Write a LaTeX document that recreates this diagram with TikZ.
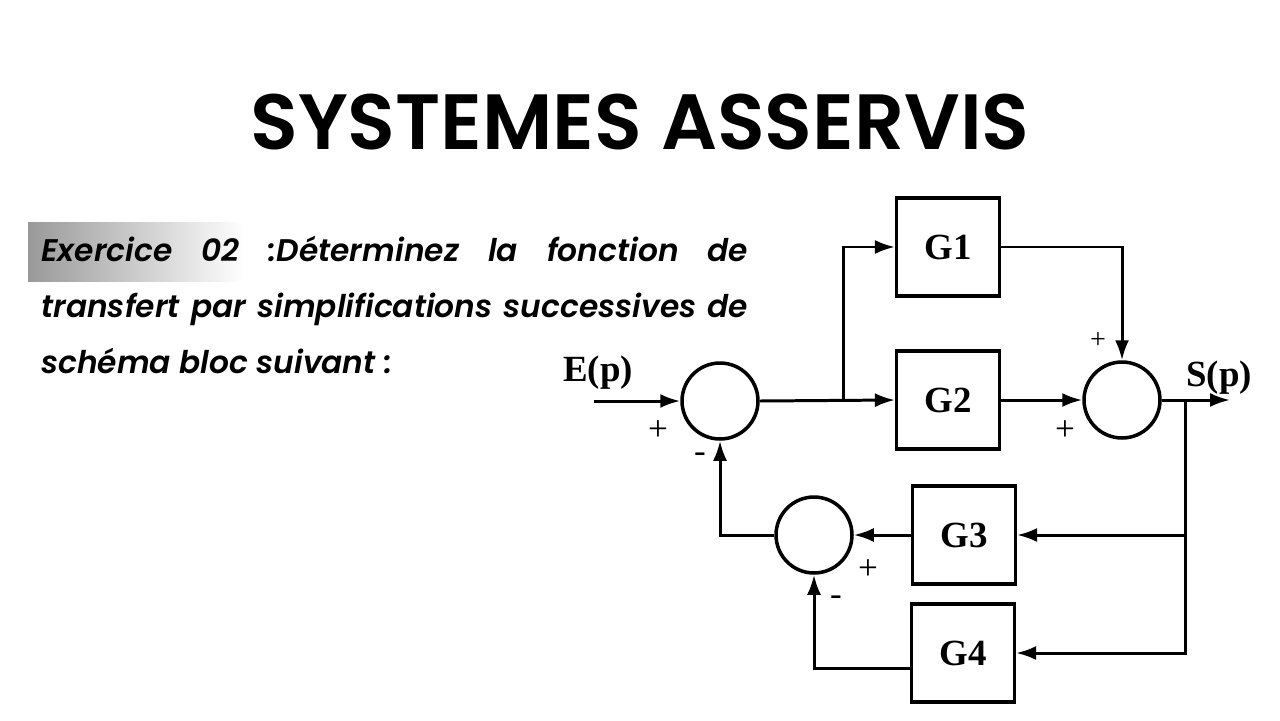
\documentclass[tikz,border=0pt]{standalone}
\usepackage{fontspec}
\setmainfont{Liberation Serif}
\newfontfamily\titrefont{Poppins}[UprightFont={* SemiBold}]
\newfontfamily\textefont{Poppins}[UprightFont={* SemiBold},ItalicFont={* SemiBold Italic}]
\usetikzlibrary{arrows.meta}

\tikzset{
  bloc/.style={draw,line width=1.8pt,minimum width=2.06cm,minimum height=1.96cm,
    font=\bfseries\fontsize{21}{21}\selectfont},
  somme/.style={draw,circle,line width=2pt,minimum size=1.52cm,inner sep=0pt},
  lien/.style={line width=1.7pt},
  signe/.style={font=\fontsize{20}{20}\selectfont},
  signal/.style={font=\bfseries\fontsize{21}{21}\selectfont}
}

\begin{document}
\begin{tikzpicture}[x=0.02cm,y=-0.02cm,>={Latex[length=4mm,width=2.8mm]}]
  \useasboundingbox (0,0) rectangle (1280,720);
  \fill[white] (0,0) rectangle (1280,720);

  % titre et consigne
  \node (titre) at (640,122) {\titrefont\fontsize{44.6}{44.6}\selectfont SYSTEMES ASSERVIS};
  \shade[left color=black!40,right color=white] (28,222) rectangle (245,281);
  \node[anchor=north west,text width=14.14cm,align=justify,inner sep=0pt,
    font=\textefont\itshape\fontsize{17.8}{31.8}\selectfont] (consigne) at (41,236)
    {Exercice 02 :Déterminez la fonction de\linebreak
     \mbox{transfert} par \mbox{simplifications} \mbox{successives} de\linebreak
     schéma bloc suivant :};

  % schema bloc
  \node[somme] (s1) at (720,401) {};
  \node[somme] (s2) at (1122,400) {};
  \node[somme] (s3) at (814,535) {};
  \node[bloc] (g1) at (948,247) {G1};
  \node[bloc] (g2) at (948,400) {G2};
  \node[bloc] (g3) at (964,535) {G3};
  \node[bloc] (g4) at (963,653) {G4};
  \node[signal] (ep) at (598,373) {E(p)};
  \node[signal] (sp) at (1219,378) {S(p)};
  \coordinate (entree) at (594,401);
  \coordinate (sortie) at (1230,400);
  \coordinate (b1) at (843,401);
  \coordinate (b2) at (1185,400);

  \draw[lien,->] (entree) -- (s1.west);
  \draw[lien,->] (s1.east) -- (g2.west);
  \draw[lien,->] (b1) |- (g1.west);
  \draw[lien,->] (g1.east) -| (s2.north);
  \draw[lien,->] (g2.east) -- (s2.west);
  \draw[lien,->] (s2.east) -- (sortie);
  \draw[lien,->] (b2) |- (g3.east);
  \draw[lien,->] (b2) |- (g4.east);
  \draw[lien,->] (g3.west) -- (s3.east);
  \draw[lien,->] ([yshift=-0.3cm]g4.west) -| (s3.south);
  \draw[lien,->] (s3.west) -| (s1.south);

  % signes
  \node[signe] (p1) at (658,431) {+};
  \node[signe] (m1) at (700,458) {-};
  \node[signe,font=\fontsize{16}{16}\selectfont] (p2) at (1098,341) {+};
  \node[signe] (p3) at (1065,431) {+};
  \node[signe] (p4) at (868,570) {+};
  \node[signe] (m3) at (836,601) {-};
\end{tikzpicture}
\end{document}
